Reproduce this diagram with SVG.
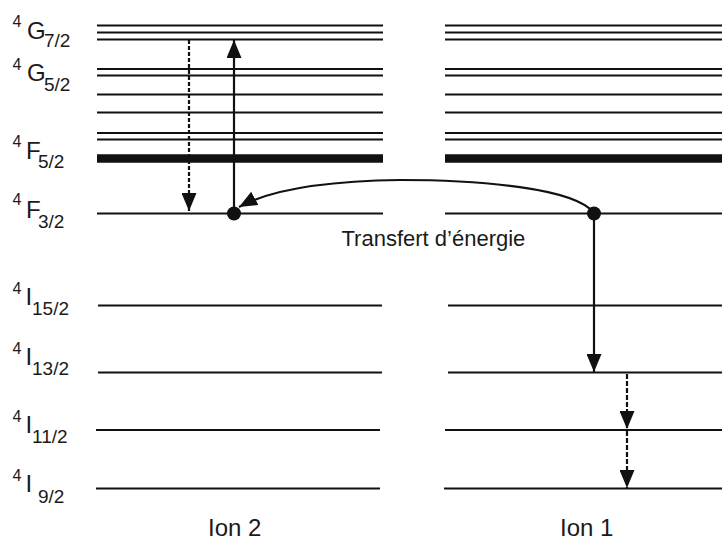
<svg xmlns="http://www.w3.org/2000/svg" width="722" height="540" viewBox="0 0 722 540">
<style>
.lv{stroke:#111;stroke-width:2.2;fill:none}
.thick{stroke:#111;stroke-width:8.5;fill:none}
.ar{stroke:#111;stroke-width:2.2;fill:none}
.dash1{stroke-dasharray:4,2}
.dash2{stroke-dasharray:5,2}
.sup{font-family:"Liberation Sans",Arial,sans-serif;font-size:16px;fill:#1a1a1a}
.main{font-family:"Liberation Sans",Arial,sans-serif;font-size:24px;fill:#1a1a1a}
.sub{font-family:"Liberation Sans",Arial,sans-serif;font-size:19px;fill:#1a1a1a}
.lbl{font-family:"Liberation Sans",Arial,sans-serif;fill:#1a1a1a}
.dot{fill:#111}
</style>
<defs>
<marker id="ah" viewBox="0 0 18 15" refX="18" refY="7.5" markerWidth="18" markerHeight="15" markerUnits="userSpaceOnUse" orient="auto">
<path d="M0,0 L18,7.5 L0,15 z" fill="#111"/>
</marker>
</defs>

<g id="G72">
<line class="lv" x1="97" y1="25.5" x2="383" y2="25.5"/><line class="lv" x1="445" y1="25.5" x2="722" y2="25.5"/>
<line class="lv" x1="97" y1="32.5" x2="383" y2="32.5"/><line class="lv" x1="445" y1="32.5" x2="722" y2="32.5"/>
<line class="lv" x1="97" y1="39.5" x2="383" y2="39.5"/><line class="lv" x1="445" y1="39.5" x2="722" y2="39.5"/>
<text class="sup" x="12.5" y="27">4</text><text class="main" x="27" y="39">G</text><text class="sub" x="44" y="47">7/2</text>
</g>
<g id="G52">
<line class="lv" x1="97" y1="69" x2="383" y2="69"/><line class="lv" x1="445" y1="69" x2="722" y2="69"/>
<line class="lv" x1="97" y1="75.5" x2="383" y2="75.5"/><line class="lv" x1="445" y1="75.5" x2="722" y2="75.5"/>
<line class="lv" x1="97" y1="94.5" x2="383" y2="94.5"/><line class="lv" x1="445" y1="94.5" x2="722" y2="94.5"/>
<line class="lv" x1="97" y1="112.5" x2="383" y2="112.5"/><line class="lv" x1="445" y1="112.5" x2="722" y2="112.5"/>
<text class="sup" x="12.5" y="70">4</text><text class="main" x="27" y="81">G</text><text class="sub" x="44" y="91">5/2</text>
</g>
<g id="F52">
<line class="lv" x1="97" y1="133" x2="383" y2="133"/><line class="lv" x1="445" y1="133" x2="722" y2="133"/>
<line class="lv" x1="97" y1="139.5" x2="383" y2="139.5"/><line class="lv" x1="445" y1="139.5" x2="722" y2="139.5"/>
<line class="thick" x1="97" y1="158.5" x2="383" y2="158.5"/><line class="thick" x1="445" y1="158.5" x2="722" y2="158.5"/>
<text class="sup" x="12.5" y="147">4</text><text class="main" x="26" y="159">F</text><text class="sub" x="38" y="168">5/2</text>
</g>
<g id="F32">
<line class="lv" x1="97" y1="213.5" x2="383" y2="213.5"/><line class="lv" x1="445" y1="213.5" x2="722" y2="213.5"/>
<text class="sup" x="12.5" y="205">4</text><text class="main" x="26" y="218">F</text><text class="sub" x="38" y="228">3/2</text>
</g>
<g id="I152">
<line class="lv" x1="98" y1="305.5" x2="382" y2="305.5"/><line class="lv" x1="448" y1="305.5" x2="722" y2="305.5"/>
<text class="sup" x="12.5" y="294">4</text><text class="main" x="25.5" y="305">I</text><text class="sub" x="32" y="315">15/2</text>
</g>
<g id="I132">
<line class="lv" x1="98" y1="372.5" x2="382" y2="372.5"/><line class="lv" x1="448" y1="372.5" x2="722" y2="372.5"/>
<text class="sup" x="12.5" y="354">4</text><text class="main" x="25.5" y="365">I</text><text class="sub" x="32" y="375">13/2</text>
</g>
<g id="I112">
<line class="lv" x1="96" y1="430" x2="380" y2="430"/><line class="lv" x1="445" y1="430" x2="722" y2="430"/>
<text class="sup" x="12.5" y="422">4</text><text class="main" x="25.5" y="433">I</text><text class="sub" x="32" y="443">11/2</text>
</g>
<g id="I92">
<line class="lv" x1="96" y1="488.5" x2="380" y2="488.5"/><line class="lv" x1="444" y1="488.5" x2="722" y2="488.5"/>
<text class="sup" x="12.5" y="481">4</text><text class="main" x="25.5" y="492">I</text><text class="sub" x="38" y="503">9/2</text>
</g>

<g id="ion2"><text class="lbl" x="208" y="536" font-size="24">Ion 2</text></g>
<g id="ion1"><text class="lbl" x="560" y="536" font-size="24">Ion 1</text></g>
<g id="transfert"><text class="lbl" x="341.5" y="246" font-size="22">Transfert d’énergie</text></g>

<g id="connectors">
<line class="ar dash1" x1="189" y1="40" x2="189" y2="211" marker-end="url(#ah)"/>
<line class="ar" x1="234" y1="213" x2="234" y2="40" marker-end="url(#ah)"/>
<path class="ar" d="M594,213 C575,188 480,180 400,180 C320,181 270,190 239,207" marker-end="url(#ah)"/>
<line class="ar" x1="594" y1="213" x2="594" y2="372" marker-end="url(#ah)"/>
<line class="ar dash2" x1="627" y1="374" x2="627" y2="429" marker-end="url(#ah)"/>
<line class="ar dash2" x1="627" y1="431" x2="627" y2="488" marker-end="url(#ah)"/>
<circle class="dot" cx="234" cy="213.5" r="7"/>
<circle class="dot" cx="594" cy="213.5" r="7"/>
</g>
</svg>
